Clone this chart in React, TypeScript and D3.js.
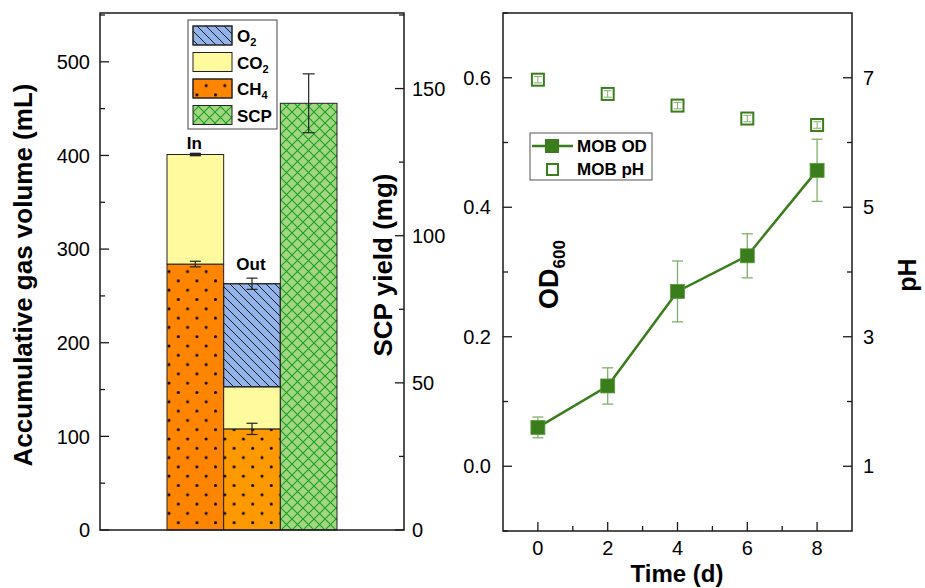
import React from "react";
import * as d3 from "d3";

const barCategories = ["In", "Out", "SCP"];
const ch4Values = [284, 108];
const ch4Err = [3, 6];
const co2Values = [117, 45];
const totalErr = [1, 0];
const o2Values = [0, 110];
const o2Err = [0, 6];
const scpYield = 145;
const scpErr = 10;

const gasTicks = [0, 100, 200, 300, 400, 500];
const scpTicks = [0, 50, 100, 150];

const days = [0, 2, 4, 6, 8];
const odValues = [0.06, 0.124, 0.27, 0.325, 0.457];
const odErr = [0.016, 0.028, 0.047, 0.034, 0.048];
const phValues = [6.97, 6.75, 6.57, 6.37, 6.27];
const phErr = [0.05, 0.05, 0.05, 0.05, 0.05];
const odTicks = [0.0, 0.2, 0.4, 0.6];
const phTicks = [1, 3, 5, 7];
const dayTicks = [0, 2, 4, 6, 8];

const FONT = "Liberation Sans, Arial, sans-serif";
const GREEN = "#3a7d1c";
const GREEN_LIGHT = "#7fb069";

export default function App() {
  const L = { x0: 100, x1: 404, top: 13, bot: 530 };
  const yGas = d3.scaleLinear().domain([0, 550]).range([530, 15]);
  const yScp = d3.scaleLinear().domain([0, 175]).range([530, 15]);
  const xBar = d3.scaleBand().domain(barCategories).range([167, 337]).paddingInner(0);
  const bw = xBar.bandwidth();

  const R = { x0: 503, x1: 852, top: 13, bot: 531 };
  const xT = d3.scaleLinear().domain([-1, 9]).range([R.x0, R.x1]);
  const yOD = d3.scaleLinear().domain([-0.1, 0.7]).range([R.bot, R.top]);
  const yPH = d3.scaleLinear().domain([0, 8]).range([R.bot, R.top]);

  const line = d3
    .line<number>()
    .x((_, i) => xT(days[i]))
    .y((d) => yOD(d));

  const tickLen = 9;
  const minorLen = 5;
  const axisColor = "#1a1a1a";
  const TICKFS = 20;
  const TITLEFS = 26;

  const stackedBars: JSX.Element[] = [];
  [0, 1].forEach((i) => {
    const cat = barCategories[i];
    const x = xBar(cat)!;
    const ch4 = ch4Values[i];
    const co2 = co2Values[i];
    const o2 = o2Values[i];
    const ch4Fill = i === 0 ? "#ff8400" : "#ff9900";
    stackedBars.push(
      <g key={cat}>
        <rect x={x} y={yGas(ch4)} width={bw} height={yGas(0) - yGas(ch4)} fill={ch4Fill} stroke="#222" strokeWidth={1} />
        <rect x={x} y={yGas(ch4)} width={bw} height={yGas(0) - yGas(ch4)} fill="url(#dots)" />
        <rect x={x} y={yGas(ch4 + co2)} width={bw} height={yGas(ch4) - yGas(ch4 + co2)} fill="#fffa9e" stroke="#222" strokeWidth={1} />
        {o2 > 0 && (
          <>
            <rect x={x} y={yGas(ch4 + co2 + o2)} width={bw} height={yGas(ch4 + co2) - yGas(ch4 + co2 + o2)} fill="#92b4ea" stroke="#222" strokeWidth={1} />
            <rect x={x} y={yGas(ch4 + co2 + o2)} width={bw} height={yGas(ch4 + co2) - yGas(ch4 + co2 + o2)} fill="url(#diag)" stroke="#222" strokeWidth={1} />
          </>
        )}
      </g>
    );
  });

  const errBar = (cx: number, yHi: number, yLo: number, color: string, cap: number, key: string, sw = 1.2) => (
    <g key={key} stroke={color} strokeWidth={sw}>
      <line x1={cx} x2={cx} y1={yHi} y2={yLo} />
      <line x1={cx - cap / 2} x2={cx + cap / 2} y1={yHi} y2={yHi} />
      <line x1={cx - cap / 2} x2={cx + cap / 2} y1={yLo} y2={yLo} />
    </g>
  );

  const inX = xBar("In")! + bw / 2;
  const outX = xBar("Out")! + bw / 2;
  const scpX = xBar("SCP")!;

  return (
    <svg width={925} height={588} style={{ position: "absolute", left: 0, top: 0 }} fontFamily={FONT}>
      <defs>
        <pattern id="dots" width={18.6} height={18.6} patternUnits="userSpaceOnUse" x={167} y={530}>
          <circle cx={2} cy={2} r={1.5} fill="#000" />
          <circle cx={11.3} cy={11.3} r={1.5} fill="#000" />
        </pattern>
        <pattern id="diag" width={9} height={9} patternUnits="userSpaceOnUse">
          <line x1={-1} y1={-1} x2={10} y2={10} stroke="#1a1a1a" strokeWidth={1} />
          <line x1={-10} y1={-1} x2={1} y2={10} stroke="#1a1a1a" strokeWidth={1} />
          <line x1={8} y1={-1} x2={19} y2={10} stroke="#1a1a1a" strokeWidth={1} />
        </pattern>
        <pattern id="xhatch" width={11} height={11} patternUnits="userSpaceOnUse" x={281} y={530}>
          <rect width={11} height={11} fill="#a3d585" />
          <path d="M0,0 L11,11 M11,0 L0,11" stroke="#15a31a" strokeWidth={1.1} />
        </pattern>
      </defs>

      {stackedBars}
      <rect x={scpX} y={yScp(scpYield)} width={bw} height={yScp(0) - yScp(scpYield)} fill="url(#xhatch)" stroke="#222" strokeWidth={1} />
      {errBar(scpX + bw / 2, yScp(scpYield + scpErr), yScp(scpYield - scpErr), "#222", 12, "scpErr")}
      {errBar(inX, yGas(ch4Values[0] + ch4Err[0]), yGas(ch4Values[0] - ch4Err[0]), "#222", 11, "e1")}
      {errBar(inX, yGas(ch4Values[0] + co2Values[0] + totalErr[0]), yGas(ch4Values[0] + co2Values[0] - totalErr[0]), "#222", 11, "e2", 1.8)}
      {errBar(outX, yGas(ch4Values[1] + ch4Err[1]), yGas(ch4Values[1] - ch4Err[1]), "#222", 11, "e3")}
      {errBar(outX, yGas(ch4Values[1] + co2Values[1] + o2Values[1] + o2Err[1]), yGas(ch4Values[1] + co2Values[1] + o2Values[1] - o2Err[1]), "#222", 11, "e4")}

      <text x={inX - 1} y={yGas(ch4Values[0] + co2Values[0]) - 6} textAnchor="middle" fontSize={17} fontWeight="bold">In</text>
      <text x={outX - 1} y={yGas(ch4Values[1] + co2Values[1] + o2Values[1]) - 14} textAnchor="middle" fontSize={17} fontWeight="bold">Out</text>

      <rect x={L.x0} y={L.top} width={L.x1 - L.x0} height={L.bot - L.top} fill="none" stroke={axisColor} strokeWidth={1.5} />
      {d3.range(0, 551, 50).map((v) => (
        <line key={"gl" + v} x1={L.x0} x2={L.x0 + (v % 100 === 0 ? tickLen : minorLen)} y1={yGas(v)} y2={yGas(v)} stroke={axisColor} strokeWidth={1.3} />
      ))}
      {gasTicks.map((v) => (
        <text key={"gt" + v} x={L.x0 - 10} y={yGas(v)} dy="0.36em" textAnchor="end" fontSize={TICKFS}>{v}</text>
      ))}
      {d3.range(0, 176, 25).map((v) => (
        <line key={"sl" + v} x1={L.x1} x2={L.x1 - (v % 50 === 0 ? tickLen : minorLen)} y1={yScp(v)} y2={yScp(v)} stroke={axisColor} strokeWidth={1.3} />
      ))}
      {scpTicks.map((v) => (
        <text key={"st" + v} x={L.x1 + 8} y={yScp(v)} dy="0.36em" textAnchor="start" fontSize={TICKFS}>{v}</text>
      ))}
      <text transform={`translate(32,275) rotate(-90)`} textAnchor="middle" fontSize={TITLEFS} fontWeight="bold">Accumulative gas volume (mL)</text>
      <text transform={`translate(392,265) rotate(-90)`} textAnchor="middle" fontSize={TITLEFS} fontWeight="bold">SCP yield (mg)</text>

      <g>
        <rect x={188} y={20} width={89} height={109} fill="#fff" stroke="#444" strokeWidth={1} />
        {[
          { fill: "#92b4ea", pat: "url(#diag)", label: "O", sub: "2" },
          { fill: "#fffa9e", pat: null, label: "CO", sub: "2" },
          { fill: "#ff8400", pat: "url(#dots)", label: "CH", sub: "4" },
          { fill: "url(#xhatch)", pat: null, label: "SCP", sub: "" },
        ].map((e, i) => {
          const y = 26 + i * 26.5;
          return (
            <g key={"lg" + i}>
              <rect x={193} y={y} width={39} height={19} fill={e.fill} stroke="#222" strokeWidth={1} />
              {e.pat && <rect x={193} y={y} width={39} height={19} fill={e.pat} stroke="#222" strokeWidth={1} />}
              <text x={237} y={y + 16} fontSize={17} fontWeight="bold">
                {e.label}
                {e.sub && <tspan fontSize={11} dy={4}>{e.sub}</tspan>}
              </text>
            </g>
          );
        })}
      </g>

      <rect x={R.x0} y={R.top} width={R.x1 - R.x0} height={R.bot - R.top} fill="none" stroke={axisColor} strokeWidth={1.5} />
      {d3.range(0, 9, 1).map((v) => (
        <line key={"xt" + v} x1={xT(v)} x2={xT(v)} y1={R.bot} y2={R.bot - (v % 2 === 0 ? tickLen : minorLen)} stroke={axisColor} strokeWidth={1.3} />
      ))}
      {dayTicks.map((v) => (
        <text key={"xl" + v} x={xT(v)} y={555} textAnchor="middle" fontSize={TICKFS}>{v}</text>
      ))}
      {d3.range(-0.1, 0.71, 0.1).map((v) => {
        const r = Math.round(v * 10);
        return (
          <line key={"ot" + r} x1={R.x0} x2={R.x0 + (r % 2 === 0 ? tickLen : minorLen)} y1={yOD(r / 10)} y2={yOD(r / 10)} stroke={axisColor} strokeWidth={1.3} />
        );
      })}
      {odTicks.map((v) => (
        <text key={"ol" + v} x={R.x0 - 12} y={yOD(v)} dy="0.36em" textAnchor="end" fontSize={TICKFS}>{v.toFixed(1)}</text>
      ))}
      {d3.range(1, 8, 1).map((v) => (
        <line key={"pt" + v} x1={R.x1} x2={R.x1 - (v % 2 === 1 ? tickLen : minorLen)} y1={yPH(v)} y2={yPH(v)} stroke={axisColor} strokeWidth={1.3} />
      ))}
      {phTicks.map((v) => (
        <text key={"pl" + v} x={R.x1 + 11} y={yPH(v)} dy="0.36em" textAnchor="start" fontSize={TICKFS}>{v}</text>
      ))}
      <text x={677} y={582} textAnchor="middle" fontSize={24} fontWeight="bold">Time (d)</text>
      <text transform={`translate(916,275) rotate(-90)`} textAnchor="middle" fontSize={25} fontWeight="bold">pH</text>
      <text transform={`translate(558,309) rotate(-90)`} fontSize={27} fontWeight="bold">
        OD<tspan fontSize={17} dy={7}>600</tspan>
      </text>

      {days.map((d, i) => errBar(xT(d), yOD(odValues[i] + odErr[i]), yOD(odValues[i] - odErr[i]), GREEN_LIGHT, 11, "oe" + i, 1.3))}
      <path d={line(odValues) || ""} fill="none" stroke={GREEN} strokeWidth={2.5} />
      {days.map((d, i) => (
        <rect key={"om" + i} x={xT(d) - 7} y={yOD(odValues[i]) - 7} width={14} height={14} fill={GREEN} stroke="#5a9a3a" strokeWidth={0.8} />
      ))}
      {days.map((d, i) => (
        <g key={"pm" + i}>
          <rect x={xT(d) - 6} y={yPH(phValues[i]) - 6} width={12} height={12} fill="#fff" stroke={GREEN} strokeWidth={2} />
          {errBar(xT(d), yPH(phValues[i] + phErr[i]), yPH(phValues[i] - phErr[i]), GREEN_LIGHT, 8, "pe" + i, 1)}
        </g>
      ))}

      <g>
        <rect x={530} y={133} width={122} height={47} fill="#fff" stroke="#555" strokeWidth={1} />
        <line x1={532} x2={573} y1={146} y2={146} stroke={GREEN} strokeWidth={2.5} />
        <rect x={545} y={139} width={14} height={14} fill={GREEN} />
        <rect x={547} y={164} width={11} height={11} fill="#fff" stroke={GREEN} strokeWidth={2} />
        <text x={577} y={152} fontSize={17} fontWeight="bold">MOB OD</text>
        <text x={577} y={175} fontSize={17} fontWeight="bold">MOB pH</text>
      </g>
    </svg>
  );
}
